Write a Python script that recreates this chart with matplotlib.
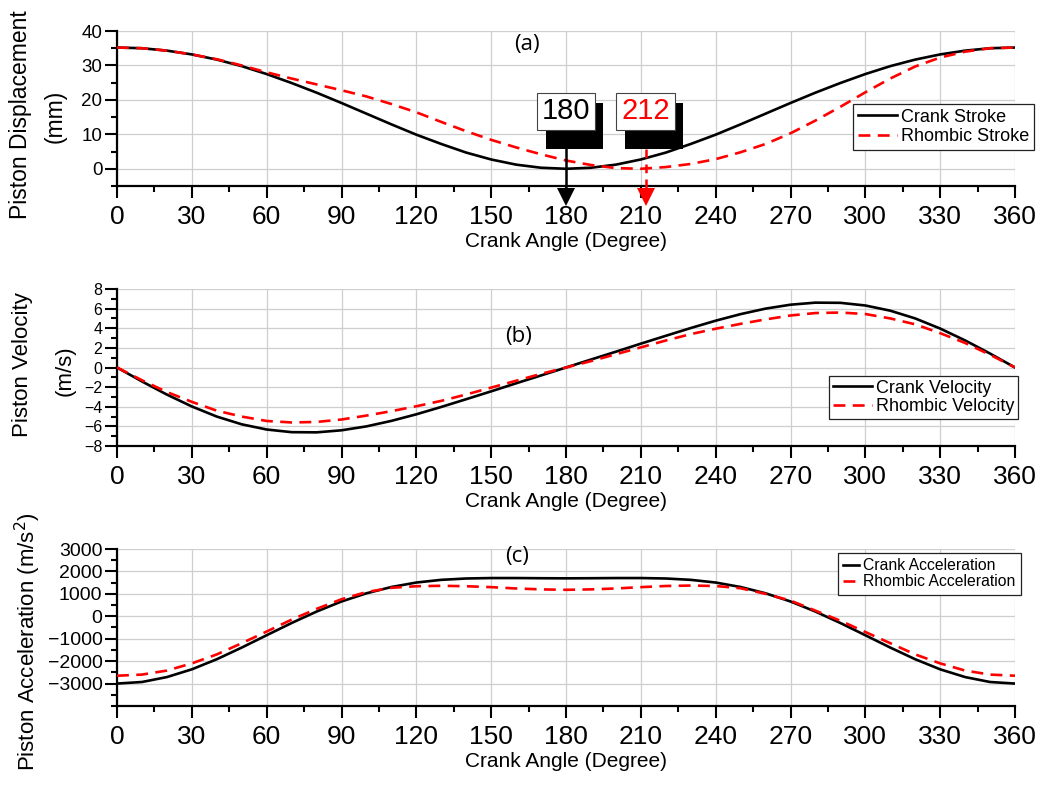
import numpy as np
import matplotlib
matplotlib.use("Agg")
import matplotlib.pyplot as plt
from matplotlib import font_manager
from matplotlib.patches import Rectangle

# ---------------- data ----------------
angle = list(range(0, 361, 10))

crank_disp = [35.2, 35.0, 34.3, 33.2, 31.7, 29.8, 27.5, 24.9, 22.1, 19.1,
              16.0, 12.9, 9.9, 7.2, 4.7, 2.7, 1.2, 0.3, 0.0, 0.3,
              1.2, 2.7, 4.7, 7.2, 9.9, 12.9, 16.0, 19.1, 22.1, 24.9,
              27.5, 29.8, 31.7, 33.2, 34.3, 35.0, 35.2]
rhombic_disp = [35.2, 35.0, 34.3, 33.2, 31.8, 30.0, 28.0, 26.2, 24.5, 22.8,
                21.0, 18.8, 16.4, 13.6, 10.9, 8.4, 6.2, 4.2, 2.4, 1.1,
                0.2, 0.0, 0.5, 1.4, 2.8, 4.8, 7.2, 10.3, 14.0, 18.0,
                22.2, 26.2, 29.7, 32.3, 34.0, 35.0, 35.2]

crank_vel = [0, -1.42, -2.76, -3.97, -5.0, -5.79, -6.32, -6.59, -6.61, -6.4,
             -6.0, -5.44, -4.77, -4.02, -3.23, -2.43, -1.61, -0.81, 0, 0.81,
             1.61, 2.43, 3.23, 4.02, 4.77, 5.44, 6.0, 6.4, 6.61, 6.59,
             6.32, 5.79, 5.0, 3.97, 2.76, 1.42, 0]
rhombic_vel = [0, -1.3, -2.5, -3.5, -4.4, -5.0, -5.45, -5.6, -5.55, -5.3,
               -4.9, -4.45, -3.95, -3.4, -2.75, -2.05, -1.35, -0.65, 0, 0.65,
               1.35, 2.05, 2.75, 3.4, 3.95, 4.45, 4.9, 5.3, 5.55, 5.6,
               5.45, 5.0, 4.4, 3.5, 2.5, 1.3, 0]

crank_acc = [-3000, -2930, -2710, -2365, -1915, -1395, -845, -300, 210, 660,
             1025, 1305, 1505, 1625, 1685, 1705, 1705, 1697, 1692, 1697,
             1705, 1705, 1685, 1625, 1505, 1305, 1025, 660, 210, -300,
             -845, -1395, -1915, -2365, -2710, -2930, -3000]
rhombic_acc = [-2650, -2600, -2420, -2100, -1700, -1200, -680, -150, 330, 760,
               1080, 1270, 1340, 1360, 1340, 1300, 1240, 1200, 1180, 1200,
               1240, 1300, 1350, 1370, 1350, 1250, 1000, 700, 250, -200,
               -700, -1200, -1700, -2100, -2420, -2600, -2650]

x_ticks = list(range(0, 361, 30))
marked_angles = [180, 212]
marked_colors = ["black", "red"]

# ---------------- fonts ----------------
available = {f.name for f in font_manager.fontManager.ttflist}
SANS = "Liberation Sans" if "Liberation Sans" in available else "DejaVu Sans"
NARROW = "Liberation Sans Narrow" if "Liberation Sans Narrow" in available else SANS
PANEL = "Open Sans" if "Open Sans" in available else SANS
plt.rcParams["font.family"] = [SANS, "DejaVu Sans"]

W, H, DPI = 1044, 787, 100
fig = plt.figure(figsize=(W / DPI, H / DPI), dpi=DPI)
fig.patch.set_facecolor("white")

# axes rectangles in pixels: left, top, right, bottom
L, R = 117, 1015
rows = [(31, 186), (289, 446), (549, 706)]
axes = []
for top, bot in rows:
    ax = fig.add_axes([L / W, 1 - bot / H, (R - L) / W, (bot - top) / H])
    axes.append(ax)

ylims = [(-5, 40), (-8, 8), (-4000, 3000)]
ymajor = [[0, 10, 20, 30, 40], list(range(-8, 9, 2)),
          [-3000, -2000, -1000, 0, 1000, 2000, 3000]]
yminor = [np.arange(-5, 41, 5), np.arange(-8, 9, 1), np.arange(-4000, 3001, 500)]
ytick_size = [13.5, 11.5, 14]

for i, ax in enumerate(axes):
    ax.set_xlim(0, 360)
    ax.set_ylim(*ylims[i])
    ax.set_xticks(x_ticks)
    ax.set_xticks(range(0, 361, 15), minor=True)
    ax.set_yticks(ymajor[i])
    ax.set_yticks(yminor[i], minor=True)
    for s in ["top", "right"]:
        ax.spines[s].set_visible(False)
    for s in ["left", "bottom"]:
        ax.spines[s].set_linewidth(1.6)
    ax.tick_params(axis="both", which="major", direction="out", length=8.5,
                   width=1.5, color="black")
    ax.tick_params(axis="both", which="minor", direction="out", length=4.5,
                   width=1.5, color="black")
    ax.tick_params(axis="x", labelsize=19, pad=5)
    ax.tick_params(axis="y", labelsize=ytick_size[i], pad=2)
    for lab in ax.get_xticklabels():
        lab.set_fontfamily(NARROW)
    ax.grid(True, which="major", color="#cfcfcf", linewidth=0.9)
    ax.set_axisbelow(True)
    ax.text(0.5, -0.36 if i == 0 else -0.355, "Crank Angle (Degree)",
            transform=ax.transAxes, ha="center", va="center", fontsize=15)

lw = 1.9
dash = (0, (4.5, 2.8))

# (a) displacement
ax = axes[0]
ax.plot(angle, crank_disp, color="black", lw=lw, label="Crank Stroke", zorder=3)
ax.plot(angle, rhombic_disp, color="red", lw=lw, ls=dash, label="Rhombic Stroke", zorder=3)
ax.text(-0.108, 0.46, "Piston Displacement", transform=ax.transAxes, rotation=90,
        ha="center", va="center", fontsize=16.5)
ax.text(-0.069, 0.45, "(mm)", transform=ax.transAxes, rotation=90,
        ha="center", va="center", fontsize=16.5)
ax.text(0.457, 0.91, "(a)", transform=ax.transAxes, ha="center", va="center",
        fontsize=16, family=PANEL)
ax.legend(loc="upper left", bbox_to_anchor=(853 / W, 1 - 104 / H),
          bbox_transform=fig.transFigure, fontsize=13, frameon=True,
          fancybox=False, edgecolor="#222222", framealpha=1, handlelength=2.2,
          handletextpad=0.2, borderpad=0.25, labelspacing=0.15,
          borderaxespad=0).get_frame().set_linewidth(0.9)

# value callouts with drop shadow and pointer arrow
box_w, box_h = 23.6, 10.5      # degrees, mm
for a, col in zip(marked_angles, marked_colors):
    ax.add_patch(Rectangle((a - 8.2, 5.8), 23.2, 13.2, facecolor="black",
                           edgecolor="none", clip_on=False, zorder=6))
    ax.add_patch(Rectangle((a - box_w / 2, 11.4), box_w, box_h, facecolor="white",
                           edgecolor="#444444", lw=0.8, clip_on=False, zorder=7))
    ax.text(a, 11.4 + box_h / 2, str(a), color=col, fontsize=21, ha="center",
            va="center", zorder=8)
    ls = "-" if col == "black" else (0, (3.5, 2.5))
    ax.plot([a, a], [5.8, -6.5], color=col, lw=1.8, ls=ls, clip_on=False, zorder=6)
    ax.plot([a], [-8.3], marker="v", color=col, markersize=12.5, clip_on=False,
            zorder=6, markeredgewidth=0)

# (b) velocity
ax = axes[1]
ax.plot(angle, crank_vel, color="black", lw=lw, label="Crank Velocity", zorder=3)
ax.plot(angle, rhombic_vel, color="red", lw=lw, ls=dash, label="Rhombic Velocity", zorder=3)
ax.text(-0.105, 0.52, "Piston Velocity", transform=ax.transAxes, rotation=90,
        ha="center", va="center", fontsize=16)
ax.text(-0.058, 0.48, "(m/s)", transform=ax.transAxes, rotation=90,
        ha="center", va="center", fontsize=16)
ax.text(0.447, 0.70, "(b)", transform=ax.transAxes, ha="center", va="center",
        fontsize=16, family=PANEL)
ax.legend(loc="upper left", bbox_to_anchor=(829 / W, 1 - 376 / H),
          bbox_transform=fig.transFigure, fontsize=13, frameon=True,
          fancybox=False, edgecolor="#222222", framealpha=1, handlelength=2.2,
          handletextpad=0.2, borderpad=0.2, labelspacing=0.1,
          borderaxespad=0).get_frame().set_linewidth(0.9)

# (c) acceleration
ax = axes[2]
ax.plot(angle, crank_acc, color="black", lw=lw, label="Crank Acceleration", zorder=3)
ax.plot(angle, rhombic_acc, color="red", lw=lw, ls=dash, label="Rhombic Acceleration", zorder=3)
ax.text(-0.099, 0.41, "Piston Acceleration (m/s$^2$)", transform=ax.transAxes,
        rotation=90, ha="center", va="center", fontsize=16)
ax.text(0.446, 0.955, "(c)", transform=ax.transAxes, ha="center", va="center",
        fontsize=16, family=PANEL)
ax.legend(loc="upper left", bbox_to_anchor=(838 / W, 1 - 553 / H),
          bbox_transform=fig.transFigure, fontsize=11.3, frameon=True,
          fancybox=False, edgecolor="#222222", framealpha=1, handlelength=1.0,
          handletextpad=0.25, borderpad=0.35, labelspacing=0.05,
          borderaxespad=0).get_frame().set_linewidth(0.9)

fig.savefig("out.png", dpi=DPI, facecolor="white")
